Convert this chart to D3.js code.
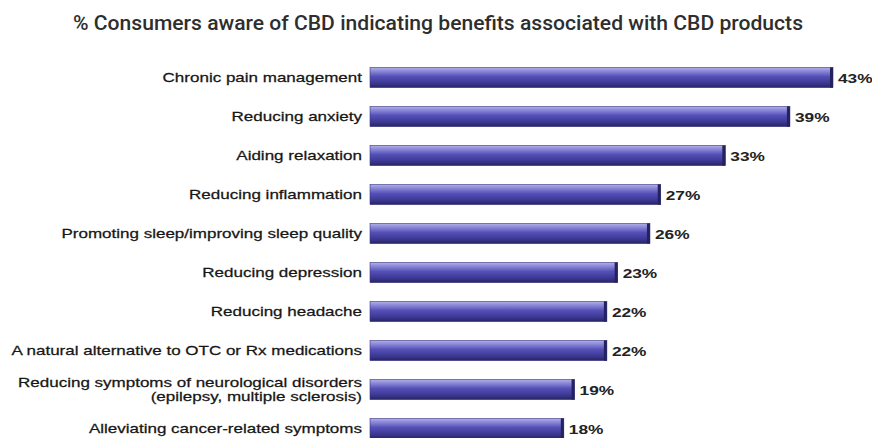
<!DOCTYPE html>
<html><head><meta charset="utf-8">
<script src="https://cdn.jsdelivr.net/npm/d3@7"></script>
<style>body{margin:0;background:#fff;}svg{display:block;}</style>
</head><body>
<script>
const title = "% Consumers aware of CBD indicating benefits associated with CBD products";
const categories = [
  "Chronic pain management",
  "Reducing anxiety",
  "Aiding relaxation",
  "Reducing inflammation",
  "Promoting sleep/improving sleep quality",
  "Reducing depression",
  "Reducing headache",
  "A natural alternative to OTC or Rx medications",
  "Reducing symptoms of neurological disorders\n(epilepsy, multiple sclerosis)",
  "Alleviating cancer-related symptoms"
];
const values = [43, 39, 33, 27, 26, 23, 22, 22, 19, 18];

const W = 872, H = 438;
const svg = d3.select("body").append("svg").attr("width", W).attr("height", H);
svg.append("rect").attr("width", W).attr("height", H).attr("fill", "#fff");

const defs = svg.append("defs");
const g = defs.append("linearGradient").attr("id", "barGrad").attr("x1", 0).attr("y1", 0).attr("x2", 0).attr("y2", 1);
[[0, "#b3b1e8"], [0.18, "#8d8ad8"], [0.45, "#5550b8"], [0.8, "#3a3690"], [1, "#262360"]]
  .forEach(([o, c]) => g.append("stop").attr("offset", o).attr("stop-color", c));

const x = d3.scaleLinear().domain([0, 43]).range([370, 833]);
const y = d3.scaleBand().domain(d3.range(categories.length)).range([58, 448]).paddingInner(0.48).paddingOuter(0.24);

svg.append("text").attr("x", 438).attr("y", 30).attr("text-anchor", "middle")
  .attr("font-family", "Roboto, Liberation Sans, sans-serif").attr("font-weight", 500)
  .attr("font-size", 20.5).attr("fill", "#2e2e2e")
  .attr("textLength", 730).attr("lengthAdjust", "spacingAndGlyphs")
  .text(title);

const rows = svg.append("g").selectAll("g").data(values).join("g");

rows.append("rect")
  .attr("x", x(0)).attr("y", (d, i) => y(i))
  .attr("width", d => x(d) - x(0)).attr("height", y.bandwidth())
  .attr("fill", "url(#barGrad)")
  .attr("stroke", "#3b3880").attr("stroke-width", 0.6);

rows.append("rect")
  .attr("x", d => x(d) - 3).attr("y", (d, i) => y(i))
  .attr("width", 3).attr("height", y.bandwidth())
  .attr("fill", "#25225e");

const sx = 1.33;
rows.append("text")
  .attr("transform", (d, i) => `translate(${x(d) + 5},${y(i) + y.bandwidth() / 2 + 5}) scale(${sx},1)`)
  .attr("font-family", "Liberation Sans, Arial, sans-serif").attr("font-weight", "bold")
  .attr("font-size", 13).attr("fill", "#222")
  .text(d => d + "%");

const lab = 1.31;
const labels = svg.append("g").selectAll("text").data(categories).join("text")
  .attr("text-anchor", "end")
  .attr("transform", `translate(362,0) scale(${lab},1)`)
  .attr("font-family", "Liberation Sans, Arial, sans-serif")
  .attr("font-size", 13).attr("fill", "#161616")
  .attr("stroke", "#161616").attr("stroke-width", 0.25);
labels.each(function(d, i) {
  const lines = d.split("\n");
  const cy = y(i) + y.bandwidth() / 2;
  const lh = 14;
  const t = d3.select(this);
  lines.forEach((ln, k) => {
    t.append("tspan").attr("x", 0)
      .attr("y", cy + 4.5 + (k - (lines.length - 1) / 2) * lh)
      .text(ln);
  });
});
</script>
</body></html>
